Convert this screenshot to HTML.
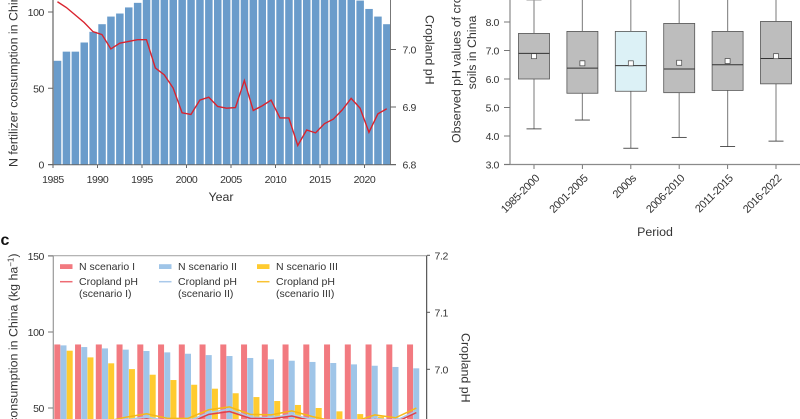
<!DOCTYPE html>
<html lang="en">
<head>
<meta charset="utf-8">
<title>Cropland pH and N fertilizer consumption in China</title>
<style>
html,body{margin:0;padding:0;background:#fff;width:800px;height:419px;overflow:hidden}
svg{display:block;font-family:"Liberation Sans",sans-serif;fill:#333;overflow:hidden}
text{font-size:10.5px}
.tick{letter-spacing:-0.4px}
.title{font-size:12.4px}
.sup{font-size:8px}
</style>
</head>
<body>
<svg id="chart" width="800" height="419" viewBox="0 0 800 419" xmlns="http://www.w3.org/2000/svg">
  <defs>
    <clipPath id="frameC"><rect x="53" y="255" width="374" height="164"></rect></clipPath>
  </defs>
  <g id="panelA"></g>
  <g id="panelB"></g>
  <g id="panelC"></g>
  <text x="0.5" y="245" style="font-size:16px;font-weight:bold;fill:#111">c</text>
  <text class="title" transform="translate(17.5,167) rotate(-90)">N fertilizer consumption in China (kg ha<tspan class="sup" dy="-4">−1</tspan><tspan dy="4">)</tspan></text>
  <text class="title" transform="translate(425.5,15) rotate(90)">Cropland pH</text>
  <text class="title" x="221" y="201" text-anchor="middle">Year</text>
  <text class="title" transform="translate(460.5,143) rotate(-90)">Observed pH values of cropland</text>
  <text class="title" transform="translate(476,52.5) rotate(-90)" text-anchor="middle">soils in China</text>
  <text class="title" x="655" y="236" text-anchor="middle">Period</text>
  <text class="title" transform="translate(17.5,253.5) rotate(-90)" text-anchor="end">N fertilizer consumption in China (kg ha<tspan class="sup" dy="-4">−1</tspan><tspan dy="4">)</tspan></text>
  <text class="title" transform="translate(461.5,333) rotate(90)">Cropland pH</text>
</svg>
<script>
/* Panel a data */
const aYears = [1985,1986,1987,1988,1989,1990,1991,1992,1993,1994,1995,1996,1997,1998,1999,2000,2001,2002,2003,2004,2005,2006,2007,2008,2009,2010,2011,2012,2013,2014,2015,2016,2017,2018,2019,2020,2021,2022];
const aNitrogen = [68,74,74,80,87,92,97,99,103,106,112,116,117,119,120,121,122,124,125,127,129,131,133,134,136,137,138,138,138,137,136,135,130,120,107.5,102,97,92];
const aPh = [7.083,7.073,7.060,7.047,7.031,7.026,7.001,7.011,7.014,7.017,7.017,6.968,6.956,6.933,6.890,6.887,6.912,6.917,6.901,6.898,6.899,6.946,6.894,6.902,6.912,6.881,6.881,6.833,6.860,6.855,6.871,6.879,6.895,6.915,6.898,6.856,6.888,6.897];
const aYearTicks = [1985,1990,1995,2000,2005,2010,2015,2020];
const aLeftTicks = [0,50,100];
const aRightTicks = ["6.8","6.9","7.0"];

/* Panel b data */
const bPeriods = ["1985-2000","2001-2005","2000s","2006-2010","2011-2015","2016-2022"];
const bUpperWhisker = [8.77,9.5,9.5,9.6,9.5,9.7];
const bQ3 = [7.6,7.67,7.67,7.95,7.67,8.02];
const bMedian = [6.9,6.38,6.47,6.35,6.5,6.72];
const bQ1 = [6.0,5.5,5.57,5.52,5.6,5.83];
const bLowerWhisker = [4.25,4.56,3.57,3.95,3.63,3.82];
const bMean = [6.8,6.55,6.55,6.57,6.63,6.8];
const bTicks = ["3.0","4.0","5.0","6.0","7.0","8.0"];

/* Panel c data */
const cScenarioOneN = [91.8,91.8,91.8,91.8,91.8,91.8,91.8,91.8,91.8,91.8,91.8,91.8,91.8,91.8,91.8,91.8,91.8,91.8];
const cScenarioTwoN = [91.2,90.1,89.2,88.4,87.5,86.6,85.7,84.8,84.2,82.9,82,81.1,80.3,79.6,78.7,77.8,77,76.1];
const cScenarioThreeN = [87.7,83.3,79.4,75.6,71.9,68.4,65.3,62.7,59.7,57.2,54.6,52,50,47.8,46,44.3,43,42];
const cScenarioOnePh = [6.885,6.893,6.899,6.907,6.913,6.905,6.905,6.921,6.926,6.914,6.913,6.918,6.909,6.901,6.900,6.912,6.907,6.924];
const cScenarioTwoPh = [6.889,6.897,6.903,6.911,6.917,6.909,6.909,6.924,6.930,6.916,6.915,6.921,6.912,6.904,6.903,6.914,6.910,6.927];
const cScenarioThreePh = [6.894,6.902,6.908,6.916,6.922,6.914,6.914,6.929,6.934,6.921,6.920,6.927,6.917,6.909,6.908,6.920,6.915,6.932];
const cLeftTicks = [50,100,150];
const cRightTicks = ["7.0","7.1","7.2"];

const NS = "http://www.w3.org/2000/svg";
function make(parent, tag, attrs, content) {
  const node = document.createElementNS(NS, tag);
  for (const key in attrs) node.setAttribute(key, attrs[key]);
  if (content !== undefined) node.textContent = content;
  parent.appendChild(node);
  return node;
}

/* Axis functions */
const axA = {
  x: function (year) { return 53 + (year - 1985) * 8.9; },
  y: function (v) { return 164.5 - v * 1.525; },
  ph: function (v) { return 164.5 - (v - 6.8) * 575; }
};
const axB = {
  x: function (i) { return 534 + i * 48.4; },
  y: function (v) { return 164.5 - (v - 3) * 28.5; }
};
const axC = {
  x: function (i) { return 54.3 + i * 20.75; },
  y: function (v) { return 484 - v * 1.52; },
  ph: function (v) { return 369.3 - (v - 7) * 570; }
};
function pathFrom(values, xFn, yFn) {
  return values.map(function (v, i) {
    return (i ? "L" : "M") + xFn(i).toFixed(2) + " " + yFn(v).toFixed(2);
  }).join(" ");
}

/* ---------- Panel a ---------- */
const pa = document.getElementById("panelA");
aNitrogen.forEach(function (v, i) {
  const top = Math.max(0, axA.y(v));
  const el = make(pa, "rect", {x: axA.x(aYears[i]) + 0.8, y: top, width: 7.5, height: 164.5 - top, fill: "#6a9ccb"});
  
  
});
const aLine = make(pa, "path", {d: pathFrom(aPh, function (i) { return axA.x(aYears[i]) + 4.45; }, axA.ph), fill: "none", stroke: "#d9232e", "stroke-width": 1.4});


const aLeftAxis = make(pa, "line", {x1: 53, y1: 0, x2: 53, y2: 165, stroke: "#444", "stroke-width": 1});


const aRightAxis = make(pa, "line", {x1: 390.5, y1: 0, x2: 390.5, y2: 165, stroke: "#777", "stroke-width": 1});


const aBottomAxis = make(pa, "line", {x1: 48, y1: 164.7, x2: 396, y2: 164.7, stroke: "#666", "stroke-width": 1});


aYearTicks.forEach(function (yr) {
  const tick = make(pa, "line", {x1: axA.x(yr), y1: 165, x2: axA.x(yr), y2: 168, stroke: "#666", "stroke-width": 1});
  
  
  const label = make(pa, "text", {class: "tick", x: axA.x(yr), y: 183, "text-anchor": "middle"}, String(yr));
  
  
});
aLeftTicks.forEach(function (v) {
  const tick = make(pa, "line", {x1: 48, y1: axA.y(v), x2: 53, y2: axA.y(v), stroke: "#666", "stroke-width": 1});
  
  
  const label = make(pa, "text", {class: "tick", x: 44, y: axA.y(v) + 4, "text-anchor": "end"}, String(v));
  
  
});
aRightTicks.forEach(function (v) {
  const tick = make(pa, "line", {x1: 390, y1: axA.ph(+v), x2: 396, y2: axA.ph(+v), stroke: "#666", "stroke-width": 1});
  
  
  const label = make(pa, "text", {class: "tick", x: 402.5, y: axA.ph(+v) + 4}, v);
  
  
});

/* ---------- Panel b ---------- */
const pb = document.getElementById("panelB");
const bLeftAxis = make(pb, "line", {x1: 510, y1: 0, x2: 510, y2: 165, stroke: "#8a8a8a", "stroke-width": 1.2});


const bBottomAxis = make(pb, "line", {x1: 504, y1: 164.5, x2: 800, y2: 164.5, stroke: "#8a8a8a", "stroke-width": 1.2});


bTicks.forEach(function (v) {
  const tick = make(pb, "line", {x1: 504, y1: axB.y(+v), x2: 510, y2: axB.y(+v), stroke: "#777", "stroke-width": 1});
  
  
  const label = make(pb, "text", {class: "tick", x: 499, y: axB.y(+v) + 4, "text-anchor": "end"}, v);
  
  
});
bPeriods.forEach(function (name, i) {
  const cx = axB.x(i);
  const tick = make(pb, "line", {x1: cx, y1: 165, x2: cx, y2: 169, stroke: "#777", "stroke-width": 1});
  
  
  const label = make(pb, "text", {class: "tick", transform: "translate(" + (cx + 6) + ",179) rotate(-45)", "text-anchor": "end", style: "font-size:11px"}, name);
  
  
  const whisker = make(pb, "line", {x1: cx, y1: Math.max(0, axB.y(bUpperWhisker[i])), x2: cx, y2: axB.y(bLowerWhisker[i]), stroke: "#8f8f8f", "stroke-width": 1.2});
  
  
  const capLow = make(pb, "line", {x1: cx - 7.5, y1: axB.y(bLowerWhisker[i]), x2: cx + 7.5, y2: axB.y(bLowerWhisker[i]), stroke: "#444", "stroke-width": 0.9});
  
  
  const capHigh = make(pb, "line", {x1: cx - 7.5, y1: axB.y(bUpperWhisker[i]), x2: cx + 7.5, y2: axB.y(bUpperWhisker[i]), stroke: "#999", "stroke-width": 0.9});
  
  
  const box = make(pb, "rect", {x: cx - 15.5, y: axB.y(bQ3[i]), width: 31, height: axB.y(bQ1[i]) - axB.y(bQ3[i]), fill: name === "2000s" ? "#dcf1f6" : "#bdbdbd", stroke: "#555", "stroke-width": 0.8});
  
  
  const median = make(pb, "line", {x1: cx - 15.5, y1: axB.y(bMedian[i]), x2: cx + 15.5, y2: axB.y(bMedian[i]), stroke: "#333", "stroke-width": 1});
  
  
  const mean = make(pb, "rect", {x: cx - 2.5, y: axB.y(bMean[i]) - 2.5, width: 5, height: 5, fill: "#fff", stroke: "#444", "stroke-width": 0.7});
  
  
});

/* ---------- Panel c ---------- */
const pc = document.getElementById("panelC");
const barW = 6.2;
[[cScenarioOneN, "#f27a80", 0], [cScenarioTwoN, "#9fc5e8", 1], [cScenarioThreeN, "#ffcb2f", 2]].forEach(function (series) {
  series[0].forEach(function (v, i) {
    const top = axC.y(v);
    const el = make(pc, "rect", {x: axC.x(i) + series[2] * barW, y: top, width: barW - 0.2, height: Math.max(0, 419 - top), fill: series[1]});
    
    
  });
});
function cCenter(i) { return axC.x(i) + 9.3; }
const lineBlue = make(pc, "path", {d: pathFrom(cScenarioTwoPh, cCenter, axC.ph), fill: "none", stroke: "#a9c9ea", "stroke-width": 1.5, "clip-path": "url(#frameC)"});


const lineRed = make(pc, "path", {d: pathFrom(cScenarioOnePh, cCenter, axC.ph), fill: "none", stroke: "#e0404a", "stroke-width": 1.5, "clip-path": "url(#frameC)"});


const lineYellow = make(pc, "path", {d: pathFrom(cScenarioThreePh, cCenter, axC.ph), fill: "none", stroke: "#f5b818", "stroke-width": 1.5, "clip-path": "url(#frameC)"});


const cTop = make(pc, "line", {x1: 48, y1: 255.7, x2: 427, y2: 255.7, stroke: "#aaa", "stroke-width": 1.2});


const cLeft = make(pc, "line", {x1: 53.3, y1: 255.7, x2: 53.3, y2: 419, stroke: "#999", "stroke-width": 1.2});


const cRight = make(pc, "line", {x1: 426.7, y1: 255.7, x2: 426.7, y2: 419, stroke: "#333", "stroke-width": 1});


cLeftTicks.forEach(function (v) {
  const tick = make(pc, "line", {x1: 48, y1: axC.y(v), x2: 53, y2: axC.y(v), stroke: "#777", "stroke-width": 1});
  
  
  const label = make(pc, "text", {class: "tick", x: 44, y: axC.y(v) + 4, "text-anchor": "end"}, String(v));
  
  
});
cRightTicks.forEach(function (v) {
  const tick = make(pc, "line", {x1: 427, y1: axC.ph(+v), x2: 430, y2: axC.ph(+v), stroke: "#555", "stroke-width": 1});
  
  
  const label = make(pc, "text", {class: "tick", x: 434.5, y: axC.ph(+v) + 4}, v);
  
  
});

/* Legend */
const legendColumns = [
  {sx: 60, tx: 79, bar: "#f27a80", line: "#ee6b73", n: "N scenario I", sub: "(scenario I)"},
  {sx: 159, tx: 178, bar: "#9fc5e8", line: "#a9c9ea", n: "N scenario II", sub: "(scenario II)"},
  {sx: 257, tx: 276, bar: "#ffcb2f", line: "#f9c233", n: "N scenario III", sub: "(scenario III)"}
];
legendColumns.forEach(function (c) {
  const swatch = make(pc, "rect", {x: c.sx, y: 264.2, width: 12.5, height: 4.8, fill: c.bar});
  
  
  const lineSwatch = make(pc, "line", {x1: c.sx, y1: 281.7, x2: c.sx + 12.5, y2: 281.7, stroke: c.line, "stroke-width": 1.5});
  
  
  const t1 = make(pc, "text", {x: c.tx, y: 270, style: "font-size:10.5px"}, c.n);
  
  
  const t2 = make(pc, "text", {x: c.tx, y: 285, style: "font-size:10.5px"}, "Cropland pH");
  
  
  const t3 = make(pc, "text", {x: c.tx, y: 297, style: "font-size:10.5px"}, c.sub);
  
  
});
</script>
</body>
</html>
